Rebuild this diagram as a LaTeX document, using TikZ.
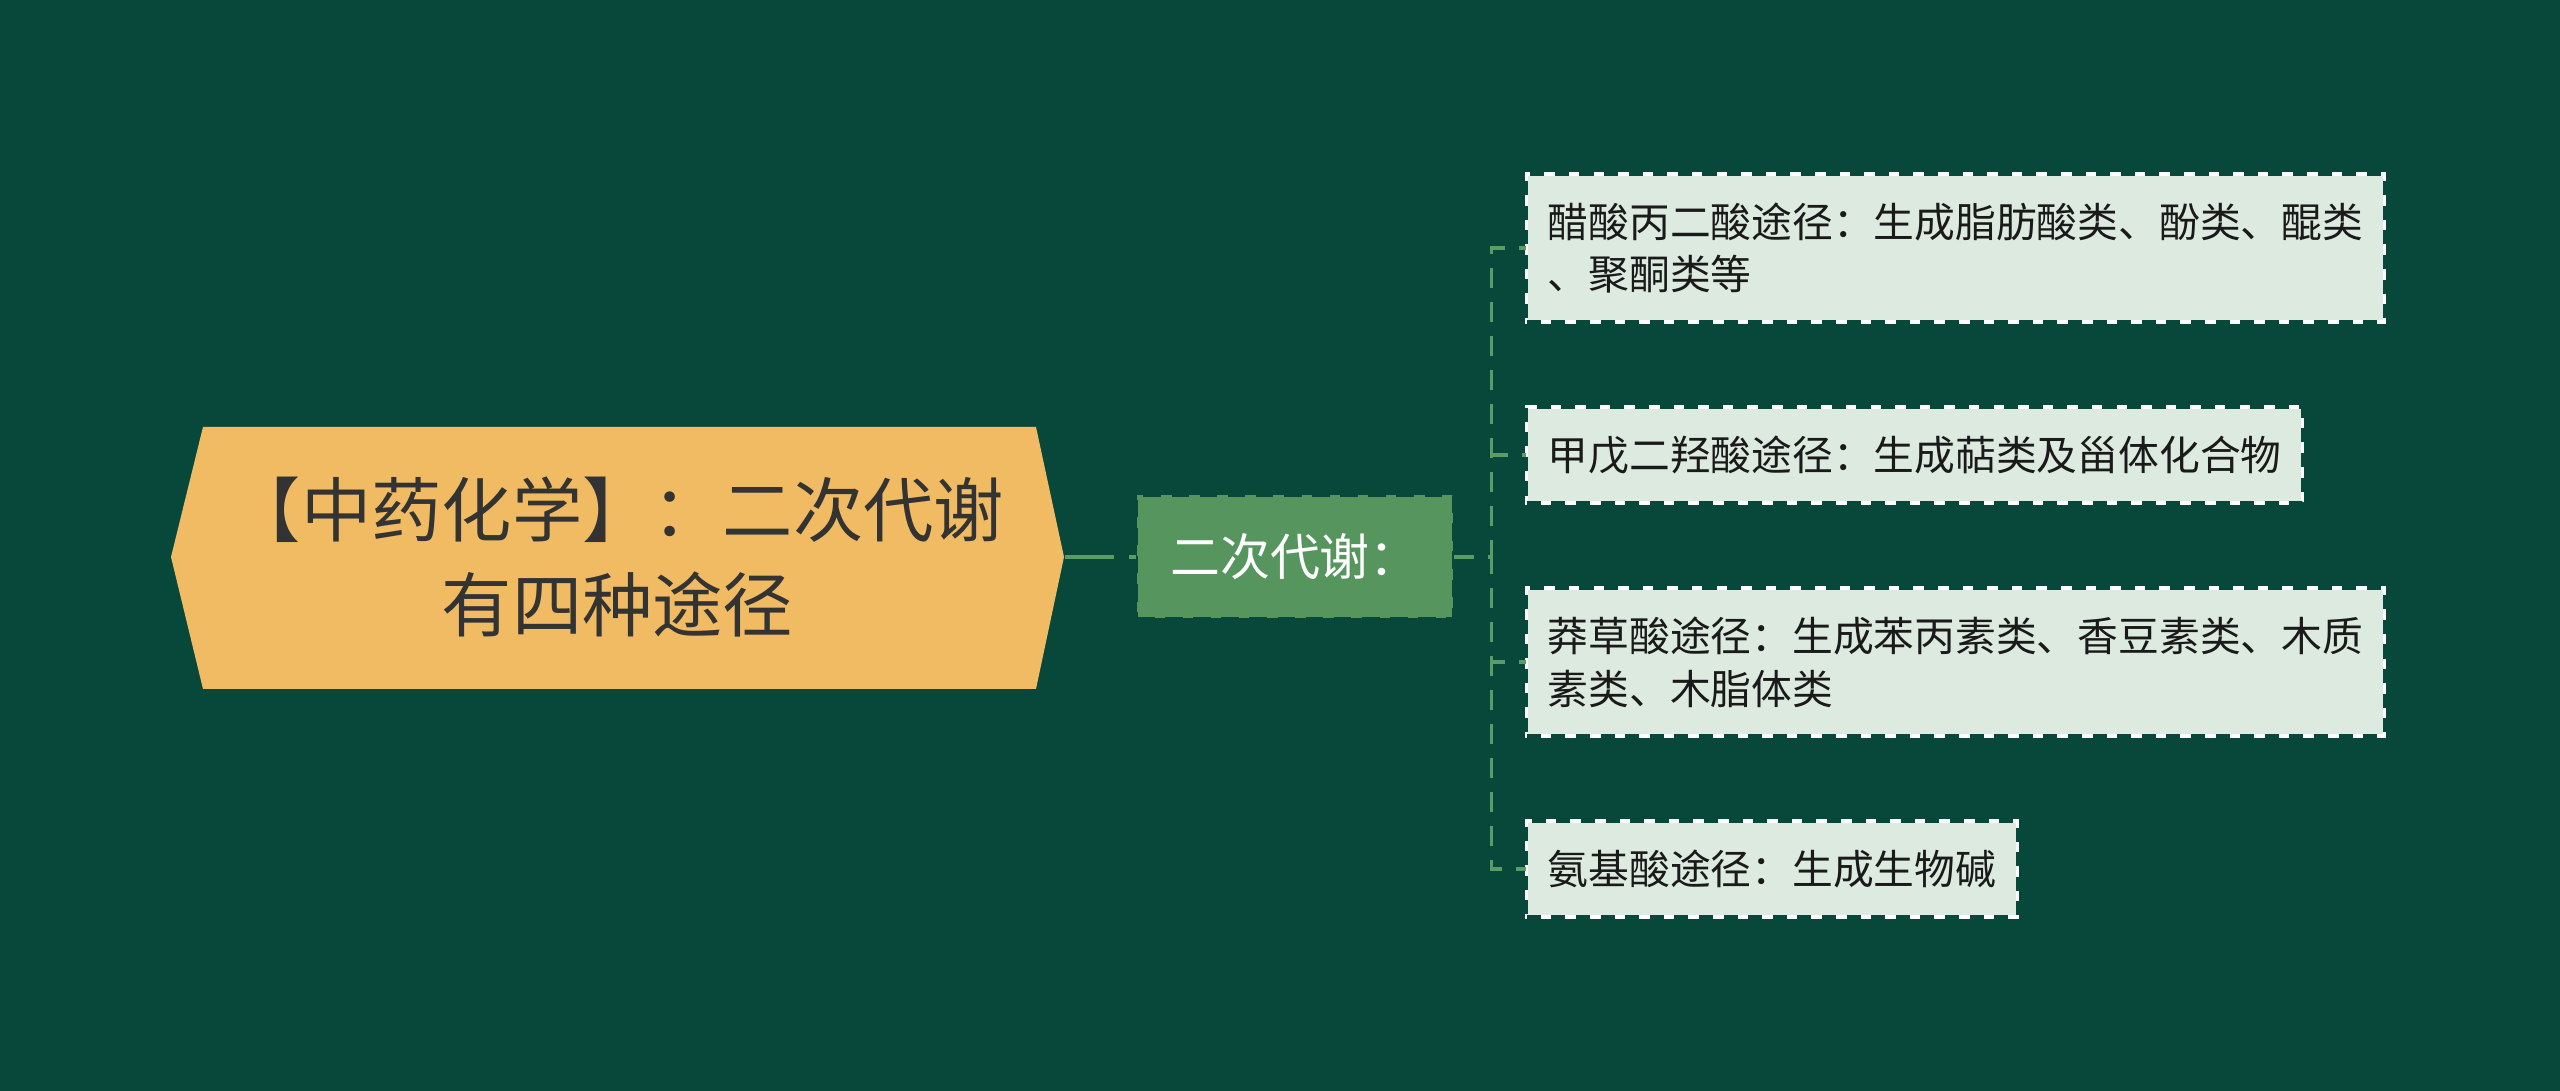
\documentclass[tikz,border=0pt]{standalone}
\usepackage{fontspec}
\setmainfont{Noto Sans CJK SC}
\usepackage{tikz}
\definecolor{bgdark}{HTML}{08483A}
\definecolor{rootfill}{HTML}{F0BB62}
\definecolor{roottext}{HTML}{333333}
\definecolor{secgreen}{HTML}{57955F}
\definecolor{linkgreen}{HTML}{5B9B65}
\definecolor{leaffill}{HTML}{DDEAE0}
\definecolor{leaftext}{HTML}{1A1A1A}

\begin{document}
\begin{tikzpicture}[
    link/.style={draw=linkgreen, line width=0.9pt, dash pattern=on 0.2cm off 0.14cm},
    leaf/.style={anchor=west, fill=leaffill, text=leaftext, align=left,
      inner xsep=0.21cm, inner ysep=0pt,
      font=\fontsize{11.6pt}{15pt}\selectfont,
      postaction={draw=white, line width=0.9pt},
      postaction={draw=bgdark, line width=0.9pt, dash pattern=on 4pt off 3pt}}
  ]
  % Background
  \fill[bgdark] (0,0) rectangle (25.6,10.91);
  % Root
  \fill[rootfill] (1.71,5.34) -- (2.03,6.64) -- (10.36,6.64) -- (10.64,5.34)
    -- (10.36,4.02) -- (2.03,4.02) -- cycle;
  \node[minimum width=8.93cm, minimum height=2.62cm, align=center, text=roottext,
    font=\fontsize{20pt}{27pt}\selectfont] (root) at (6.175,5.34)
    {【中药化学】：二次代谢\\有四种途径};
  \node[fill=secgreen, draw=bgdark, line width=0.8pt, dash pattern=on 5pt off 3pt,
    text=white, minimum width=3.16cm, minimum height=1.23cm,
    font=\fontsize{14.2pt}{17pt}\selectfont] (sec) at (12.95,5.34) {二次代谢：};
  % Leaves
  \foreach \i/\y/\h/\txt in {
      1/8.43/1.48/{醋酸丙二酸途径：生成脂肪酸类、酚类、醌类\\、聚酮类等},
      2/6.36/0.96/{甲戊二羟酸途径：生成萜类及甾体化合物},
      3/4.29/1.48/{莽草酸途径：生成苯丙素类、香豆素类、木质\\素类、木脂体类},
      4/2.22/0.96/{氨基酸途径：生成生物碱}} {
    \node[leaf, minimum height=\h cm] (p\i) at (15.26,\y) {\txt};
  }
  % Edges
  \draw[link, line width=1.3pt, dash pattern=on 0.49cm off 0.15cm] (root.east) -- (sec.west);
  \foreach \i in {1,...,4} {
    \draw[link] (sec.east) -- ++(0.37,0) |- (p\i.west);
  }
\end{tikzpicture}
\end{document}
